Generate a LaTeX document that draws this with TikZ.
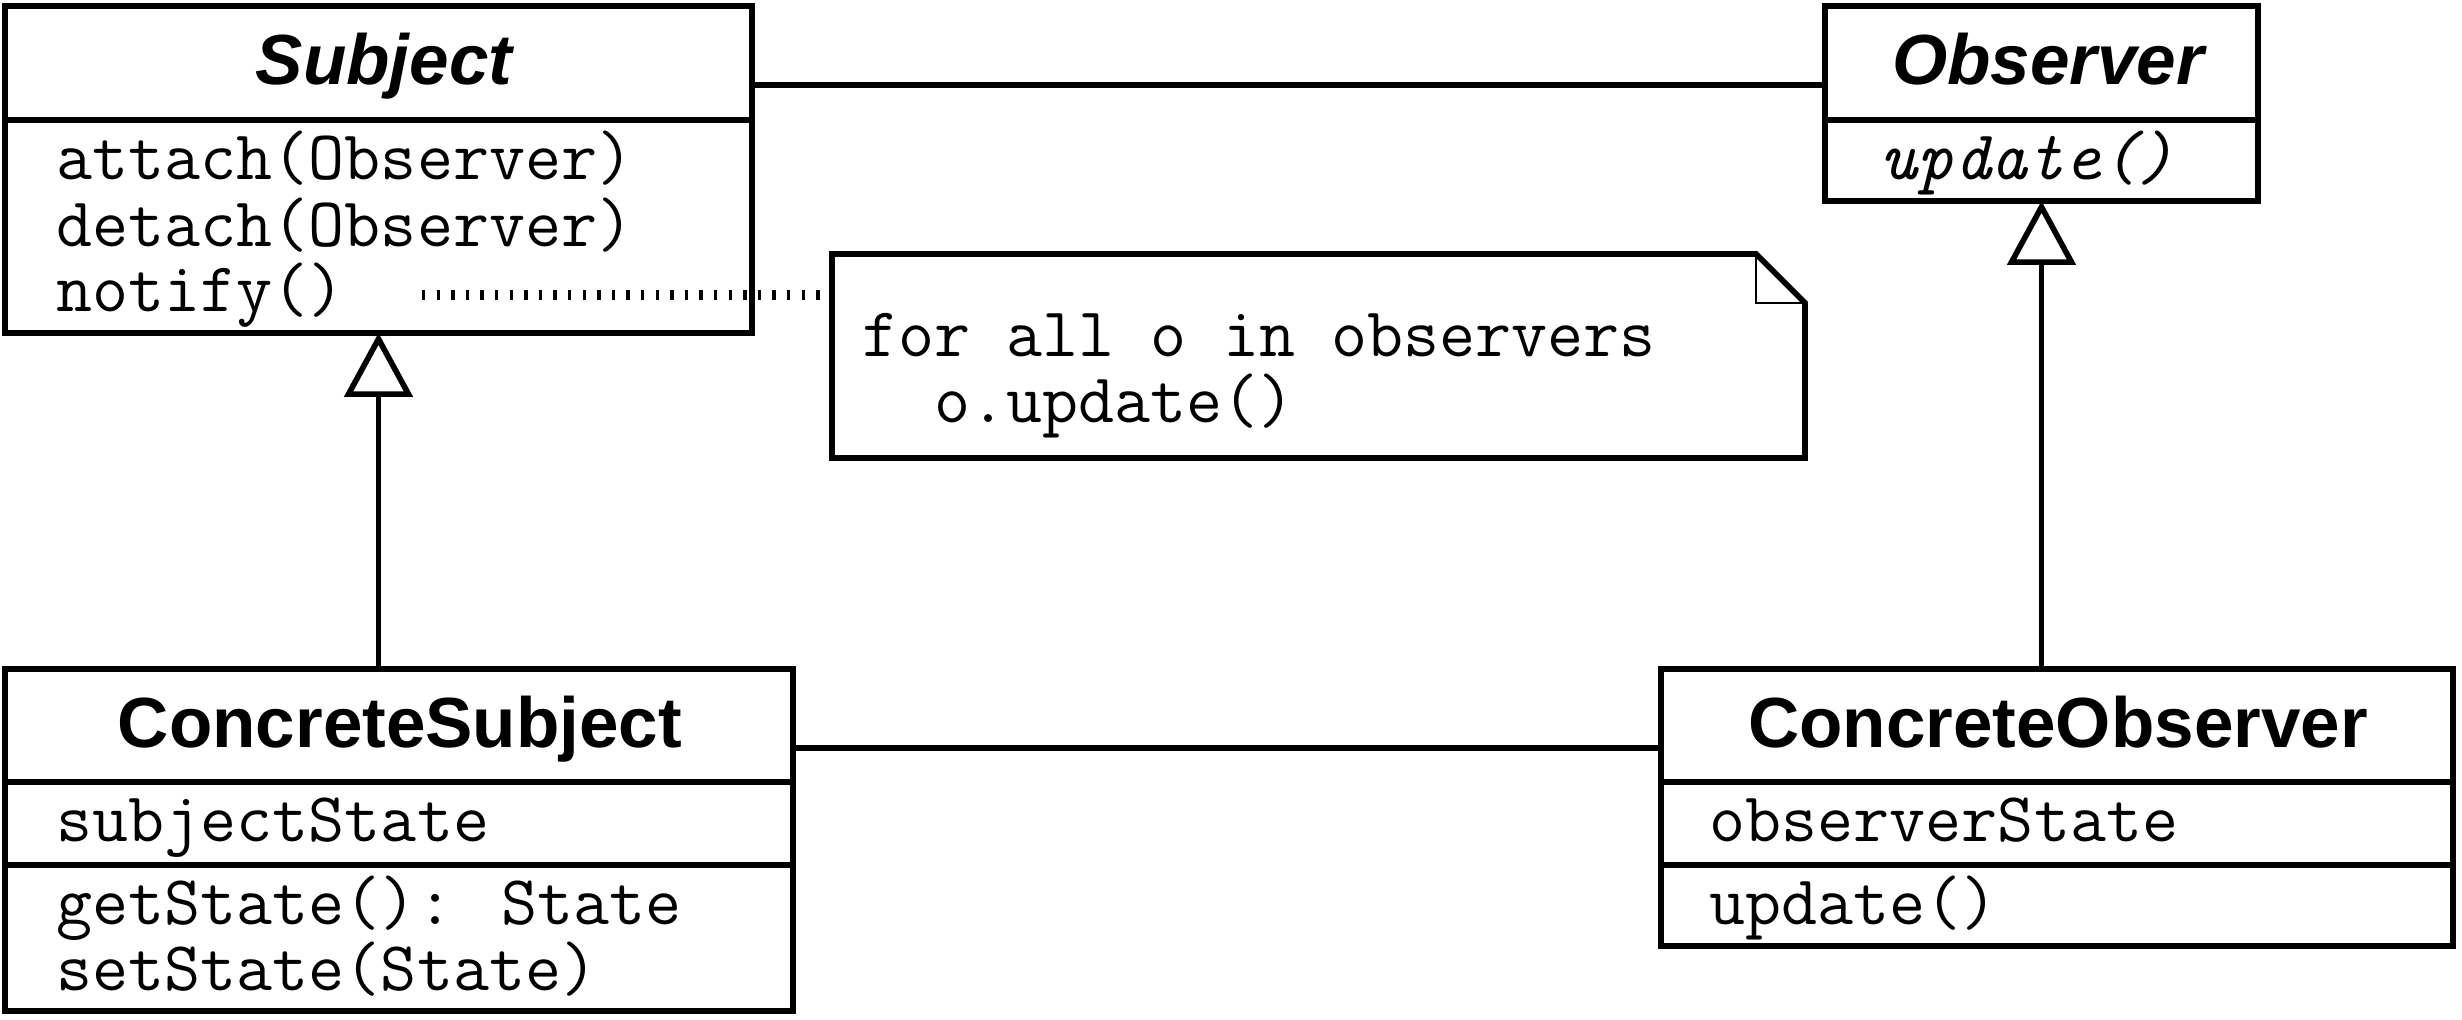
\documentclass[tikz,border=0pt]{standalone}
\usepackage{fontspec}
\newfontfamily\umlsans{Liberation Sans}
\usetikzlibrary{arrows.meta}

\begin{document}
\begin{tikzpicture}[
	line width=1.6pt,
	classbox/.style={draw, anchor=north west, inner sep=0pt, outer sep=0pt},
	classname/.style={anchor=base, inner sep=0pt, font=\umlsans\bfseries\fontsize{20.2}{24}\selectfont},
	member/.style={anchor=base west, inner sep=0pt, font=\ttfamily\fontsize{19.9}{23}\selectfont},
	inherit/.style={-{Triangle[open, length=0.64cm, width=0.68cm]}},
	notelink/.style={line width=0.105cm, dash pattern=on 0.033cm off 0.113cm}
]
	\useasboundingbox (0,0) rectangle (24.62,10.20);

	% Subject
	\node[classbox, minimum width=7.47cm, minimum height=3.27cm] (subject) at (0.05,10.14) {};
	\draw (0.05,9.00) -- (7.52,9.00);
	\node[classname, font=\umlsans\bfseries\itshape\fontsize{20.2}{24}\selectfont] (subjname) at (3.84,9.35) {Subject};
	\node[member] (attach) at (0.54,8.40) {attach(Observer)};
	\node[member] (detach) at (0.54,7.73) {detach(Observer)};
	\node[member] (notify) at (0.54,7.08) {notify()};

	% Observer
	\node[classbox, minimum width=4.33cm, minimum height=1.95cm] (observer) at (18.25,10.14) {};
	\draw (18.25,9.00) -- (22.58,9.00);
	\node[classname, font=\umlsans\bfseries\itshape\fontsize{20.2}{24}\selectfont] (obsname) at (20.48,9.35) {Observer};
	\node[member, font=\ttfamily\itshape\fontsize{19.9}{23}\selectfont] (obsupdate) at (18.78,8.40) {update()};

	% ConcreteSubject
	\node[classbox, minimum width=7.88cm, minimum height=3.42cm] (csubject) at (0.05,3.51) {};
	\draw (0.05,2.38) -- (7.93,2.38);
	\draw (0.05,1.55) -- (7.93,1.55);
	\node[classname] (csubjname) at (4.00,2.72) {ConcreteSubject};
	\node[member] (subjstate) at (0.54,1.78) {subjectState};
	\node[member] (getstate) at (0.54,0.95) {getState(): State};
	\node[member] (setstate) at (0.54,0.29) {setState(State)};

	% ConcreteObserver
	\node[classbox, minimum width=7.92cm, minimum height=2.77cm] (cobserver) at (16.61,3.51) {};
	\draw (16.61,2.38) -- (24.53,2.38);
	\draw (16.61,1.55) -- (24.53,1.55);
	\node[classname] (cobsname) at (20.58,2.72) {ConcreteObserver};
	\node[member] (obsstate) at (17.07,1.78) {observerState};
	\node[member] (cobsupdate) at (17.07,0.95) {update()};

	% note
	\node[anchor=north west, inner sep=0pt, outer sep=0pt, minimum width=9.73cm, minimum height=2.04cm] (note) at (8.32,7.66) {};
	\draw (note.north west) -- ([xshift=-0.49cm]note.north east) -- ([yshift=-0.49cm]note.north east) -- (note.south east) -- (note.south west) -- cycle;
	\draw[line width=0.3pt] ([xshift=-0.49cm]note.north east) |- ([yshift=-0.49cm]note.north east);
	\node[member] (loop) at (8.60,6.63) {for all o in observers};
	\node[member] (call) at (9.32,5.97) {o.update()};

	% connectors
	\draw (subject.east |- subjname.base) -- (observer.west |- obsname.base);
	\draw (csubject.east |- csubjname.base) -- (cobserver.west |- cobsname.base);
	\draw[inherit] (csubject.north -| subject.south) -- (subject.south);
	\draw[inherit] (cobserver.north -| observer.south) -- (observer.south);
	\coordinate (linkstart) at (4.22,7.25);
	\draw[notelink] (linkstart) -- (note.west |- linkstart);
\end{tikzpicture}
\end{document}
